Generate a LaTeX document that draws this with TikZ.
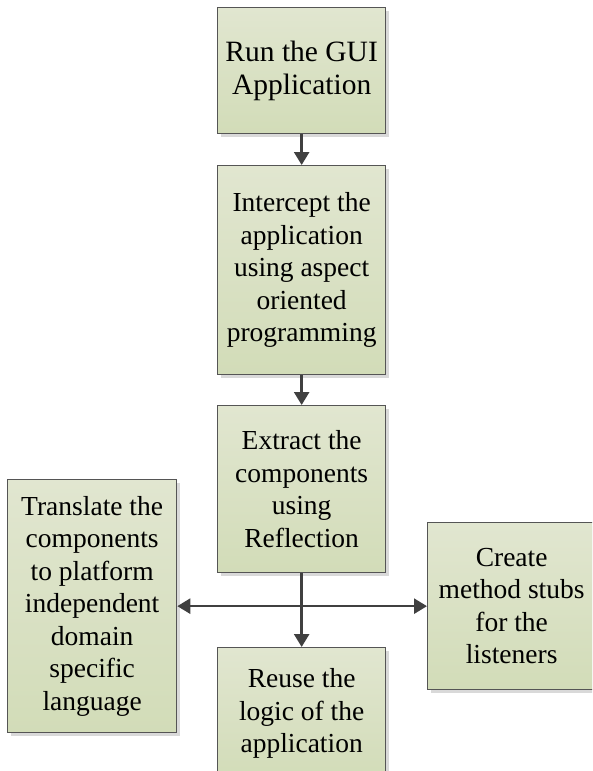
\documentclass[tikz,border=0pt]{standalone}
\usepackage{fontspec}
\setmainfont{Liberation Serif}
\usetikzlibrary{arrows.meta,shadows,positioning}
\definecolor{boxtop}{HTML}{E1E6D0}
\definecolor{boxbot}{HTML}{D2DCB8}
\definecolor{boxline}{HTML}{555555}
\definecolor{arrowc}{HTML}{404040}
\begin{document}
\begin{tikzpicture}[x=1pt,y=-1pt,
  stepbox/.style={draw=boxline, line width=1.3pt, top color=boxtop, bottom color=boxbot,
    align=center, inner sep=0pt, anchor=north west,
    font=\fontsize{27.5}{32.5}\selectfont,
    drop shadow={shadow xshift=3pt, shadow yshift=-3pt, fill=black!15, opacity=1}},
  bigtext/.style={font=\fontsize{29.5}{33}\selectfont},
  conn/.style={draw=arrowc, line width=2.6pt, -{Triangle[length=13pt,width=15pt]}},
  conn2/.style={draw=arrowc, line width=2.6pt, {Triangle[length=13pt,width=15pt]}-{Triangle[length=13pt,width=15pt]}}]
\useasboundingbox (0,0) rectangle (592,771);
\clip (0,0) rectangle (592,771);
\node[stepbox, bigtext, minimum width=168pt, minimum height=126pt] (run) at (217,7) {Run the GUI\\Application};
\node[stepbox, minimum width=168pt, minimum height=209pt] (intercept) at (217,165) {Intercept the\\application\\using aspect\\oriented\\programming};
\node[stepbox, minimum width=168pt, minimum height=167pt] (extract) at (217,405) {Extract the\\components\\using\\Reflection};
\node[stepbox, minimum width=169pt, minimum height=253pt] (translate) at (7,479) {Translate the\\components\\to platform\\independent\\domain\\specific\\language};
\node[stepbox, minimum width=168pt, minimum height=167pt] (create) at (427,522) {Create\\method stubs\\for the\\listeners};
\node[stepbox, minimum width=168pt, minimum height=132pt] (reuse) at (217,647) {Reuse the\\logic of the\\application};
\draw[conn] (run.south) -- (intercept.north);
\draw[conn] (intercept.south) -- (extract.north);
\draw[conn2] (translate.east) -- (create.west);
\draw[conn] (extract.south) -- (reuse.north);
\end{tikzpicture}
\end{document}
